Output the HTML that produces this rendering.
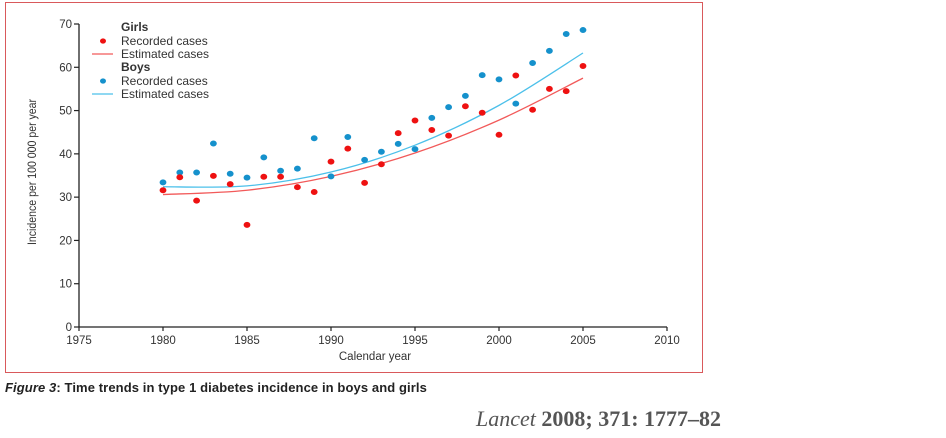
<!DOCTYPE html>
<html><head><meta charset="utf-8"><style>
html,body{margin:0;padding:0;background:#fff;}
body{width:946px;height:438px;position:relative;overflow:hidden;font-family:"Liberation Sans",sans-serif;}
#frame{position:absolute;left:5px;top:2px;width:696px;height:369px;border:1.5px solid #d9595b;}
#caption{position:absolute;left:5px;top:380px;font-size:13px;color:#222;font-weight:bold;letter-spacing:0.1px;}
#cite{position:absolute;left:476px;top:406px;font-family:"Liberation Serif",serif;font-size:22px;color:#555;font-weight:bold;white-space:nowrap;}
</style></head><body>
<div id="frame"></div>
<svg id="chart" width="946" height="438" style="position:absolute;left:0;top:0"></svg>
<div id="caption"><i>Figure 3</i>: Time trends in type 1 diabetes incidence in boys and girls</div>
<div id="cite"><i style="font-weight:normal">Lancet</i> 2008; 371: 1777–82</div>
<script>
const years=[1980,1981,1982,1983,1984,1985,1986,1987,1988,1989,1990,1991,1992,1993,1994,1995,1996,1997,1998,1999,2000,2001,2002,2003,2004,2005];
const girlsRecorded=[31.6,34.6,29.2,34.9,33.0,23.6,34.7,34.7,32.3,31.2,38.2,41.2,33.3,37.6,44.8,47.7,45.5,44.2,51.0,49.5,44.4,58.1,50.2,55.0,54.5,60.3];
const boysRecorded=[33.4,35.7,35.7,42.4,35.4,34.5,39.2,36.1,36.6,43.6,34.8,43.9,38.6,40.5,42.3,41.1,48.3,50.8,53.4,58.2,57.2,51.6,61.0,63.8,67.7,68.6];
const estYears=[1980,1985,1990,1995,2000,2005];
const girlsEstimated=[30.6,31.6,34.8,40.2,47.8,57.5];
const boysEstimated=[32.4,32.6,35.8,42.0,51.2,63.3];
const xTicks=[1975,1980,1985,1990,1995,2000,2005,2010];
const yTicks=[0,10,20,30,40,50,60,70];

const svg=document.getElementById('chart');
const NS='http://www.w3.org/2000/svg';
const X=v=>79+(v-1975)*(588/35);
const Y=v=>327-v*(303/70);
function mk(t,a){const e=document.createElementNS(NS,t);for(const k in a)e.setAttribute(k,a[k]);svg.appendChild(e);return e;}

let ax=mk('line',{x1:X(1975),y1:Y(0),x2:X(2010),y2:Y(0),stroke:'#222','stroke-width':1.3});


let ay=mk('line',{x1:X(1975),y1:Y(0),x2:X(1975),y2:Y(70),stroke:'#222','stroke-width':1.3});


xTicks.forEach(v=>{
  let t=mk('line',{x1:X(v),y1:Y(0),x2:X(v),y2:Y(0)+4,stroke:'#222','stroke-width':1.2});
  
  
  let l=mk('text',{x:X(v),y:Y(0)+17,'text-anchor':'middle','font-size':11.5,fill:'#333'});
  l.textContent=v;
  
  
});
yTicks.forEach(v=>{
  let t=mk('line',{x1:X(1975)-5,y1:Y(v),x2:X(1975),y2:Y(v),stroke:'#222','stroke-width':1.2});
  
  
  let l=mk('text',{x:X(1975)-7,y:Y(v)+4,'text-anchor':'end','font-size':11.5,fill:'#333'});
  l.textContent=v;
  
  
});
let xt=mk('text',{x:375,y:360,'text-anchor':'middle','font-size':11.5,fill:'#333'});
xt.textContent='Calendar year';


let yt=mk('text',{x:0,y:0,'text-anchor':'middle','font-size':12,fill:'#333',transform:'translate(36,172) rotate(-90) scale(0.88,1)'});
yt.textContent='Incidence per 100 000 per year';



function curve(xs,ys,color,name){
  const p=xs.map((x,i)=>[X(x),Y(ys[i])]);
  let d='M'+p[0][0]+','+p[0][1];
  for(let i=0;i<p.length-1;i++){
    const p0=p[i-1]||p[i],p1=p[i],p2=p[i+1],p3=p[i+2]||p2;
    const c1=[p1[0]+(p2[0]-p0[0])/6,p1[1]+(p2[1]-p0[1])/6];
    const c2=[p2[0]-(p3[0]-p1[0])/6,p2[1]-(p3[1]-p1[1])/6];
    d+=' C'+c1+' '+c2+' '+p2;
  }
  let e=mk('path',{d:d,fill:'none',stroke:color,'stroke-width':1.3});
  
  
}
curve(estYears,boysEstimated,'#4cc0ea','boys-estimated-line');
curve(estYears,girlsEstimated,'#f25a5a','girls-estimated-line');
function dots(vals,color,name){
  years.forEach((yr,i)=>{
    let c=mk('ellipse',{cx:X(yr),cy:Y(vals[i]),rx:3.4,ry:3,fill:color});
    
    
  });
}
dots(boysRecorded,'#1591cc','boys-recorded-point');
dots(girlsRecorded,'#ee1111','girls-recorded-point');

const lg=[['Girls',null,27],['Recorded cases','dotr',41],['Estimated cases','liner',54],['Boys',null,67],['Recorded cases','dotb',81],['Estimated cases','lineb',94]];
lg.forEach(([txt,k,y])=>{
  let t=mk('text',{x:121,y:y+4,'font-size':12,fill:'#333','font-weight':k?'normal':'bold'});
  t.textContent=txt;
  
  
  if(k==='dotr'||k==='dotb'){
    let c=mk('ellipse',{cx:103,cy:y,rx:3,ry:2.6,fill:k==='dotr'?'#ee1111':'#1591cc'});
    
    
  } else if(k){
    let l=mk('line',{x1:92,y1:y,x2:113,y2:y,stroke:k==='liner'?'#f25a5a':'#4cc0ea','stroke-width':1.3});
    
    
  }
});
</script>
</body></html>
